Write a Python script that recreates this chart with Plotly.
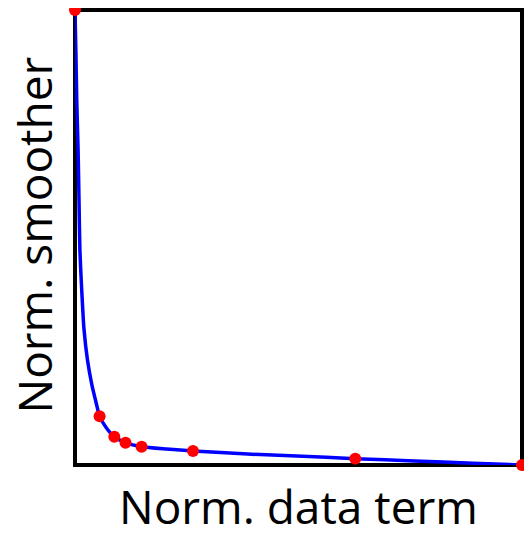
# L-curve: normalized smoother vs normalized data term
import plotly.graph_objects as go

# ==== Data (normalized) ====
curve_x = [0.0, 0.002, 0.004, 0.007, 0.009, 0.011, 0.015, 0.020, 0.028,
           0.038, 0.047, 0.055, 0.070, 0.088, 0.113, 0.149, 0.205, 0.264,
           0.386, 0.496, 0.627, 0.759, 0.890, 1.0]
curve_y = [1.0, 0.908, 0.799, 0.689, 0.580, 0.470, 0.385, 0.300, 0.230,
           0.175, 0.138, 0.107, 0.082, 0.062, 0.049, 0.040, 0.035, 0.031,
           0.024, 0.020, 0.014, 0.009, 0.004, 0.0]

marker_x = [0.0, 0.055, 0.088, 0.113, 0.149, 0.264, 0.627, 1.0]
marker_y = [1.0, 0.107, 0.062, 0.049, 0.040, 0.031, 0.014, 0.0]

x_label = "Norm. data term"
y_label = "Norm. smoother"

label_font = dict(family="Open Sans, sans-serif", size=46, color="black")

fig = go.Figure()
fig.add_trace(go.Scatter(
    x=curve_x, y=curve_y, mode="lines",
    line=dict(color="#0000ff", width=3.5, shape="spline", smoothing=0.6),
    hoverinfo="skip", cliponaxis=False,
))
fig.add_trace(go.Scatter(
    x=marker_x, y=marker_y, mode="markers",
    marker=dict(color="#ff0000", size=12),
    cliponaxis=False,
))

# black frame centred on the plot-area edges, under the traces
fig.add_shape(type="rect", xref="paper", yref="paper", x0=0, x1=1, y0=0, y1=1,
              line=dict(color="black", width=4), layer="below")

# axis labels as annotations so their position is exact
fig.add_annotation(text=x_label, xref="paper", yref="paper", x=0.5, y=0,
                   xanchor="center", yanchor="top", yshift=-8,
                   showarrow=False, font=label_font)
fig.add_annotation(text=y_label, xref="paper", yref="paper", x=0, y=0.5,
                   xanchor="right", yanchor="middle", xshift=-9, yshift=2,
                   textangle=-90, showarrow=False, font=label_font)

axis_common = dict(
    range=[0, 1], showgrid=False, zeroline=False, showticklabels=False,
    ticks="", showline=False, automargin=False,
)

# the page body adds an 8px margin, so the figure is kept inside the window
fig.update_layout(
    width=516, height=519,
    margin=dict(l=67, r=2, t=1.5, b=62),
    plot_bgcolor="white", paper_bgcolor="white",
    showlegend=False,
    xaxis=axis_common,
    yaxis=axis_common,
)

fig.write_html("out.html")
